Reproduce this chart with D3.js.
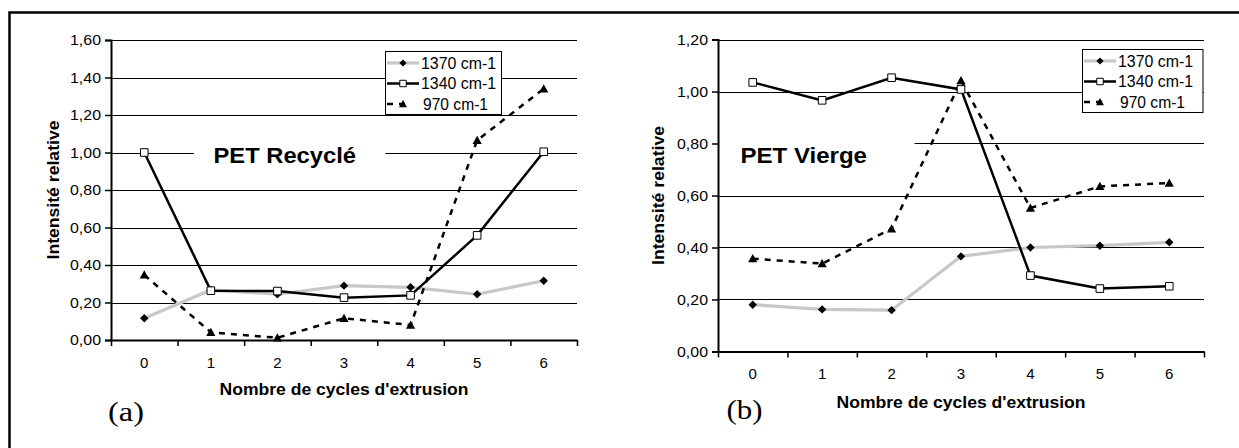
<!DOCTYPE html>
<html>
<head>
  <title>PET Recyclé / PET Vierge</title>
  <script src="https://d3js.org/d3.v7.min.js"></script>
  <style>
    body { margin: 0; background: #fff; font-family: "Liberation Sans", Arial, sans-serif; }
    svg { display: block; }
    .axis path, .axis line { stroke: #000; }
  </style>
</head>
<body>
  <div id="chart"></div>
  <script>
    // Data
    const cycles = [0, 1, 2, 3, 4, 5, 6];
    const seriesNames = ["1370 cm-1", "1340 cm-1", "970 cm-1"];

    const recycle1370 = [0.116, 0.267, 0.244, 0.290, 0.281, 0.244, 0.316];
    const recycle1340 = [1.000, 0.263, 0.261, 0.226, 0.238, 0.558, 1.004];
    const recycle970  = [0.347, 0.041, 0.012, 0.116, 0.080, 1.065, 1.340];

    const vierge1370 = [0.180, 0.162, 0.159, 0.366, 0.400, 0.407, 0.420];
    const vierge1340 = [1.035, 0.966, 1.053, 1.008, 0.292, 0.242, 0.251];
    const vierge970  = [0.357, 0.338, 0.472, 1.042, 0.552, 0.635, 0.648];

    const yTicksRecycle = [0, 0.2, 0.4, 0.6, 0.8, 1.0, 1.2, 1.4, 1.6];
    const yTicksVierge  = [0, 0.2, 0.4, 0.6, 0.8, 1.0, 1.2];

    const W = 1239, H = 448;
    const SANS = "'Liberation Sans', Arial, sans-serif";
    const SERIF = "'Liberation Serif', 'Times New Roman', serif";

    const svg = d3.select("#chart").append("svg")
      .attr("width", W).attr("height", H)
      .attr("font-family", SANS);

    // outer frame (left + top visible)
    svg.append("path")
      .attr("d", `M9.5,${H}V12.5H${W}`)
      .attr("fill", "none").attr("stroke", "#000").attr("stroke-width", 2.5);

    // custom marker shapes (size = half width)
    const diamond = { draw(ctx, r) { ctx.moveTo(0, -r); ctx.lineTo(r, 0); ctx.lineTo(0, r); ctx.lineTo(-r, 0); ctx.closePath(); } };
    const square = { draw(ctx, r) { ctx.rect(-r, -r, 2 * r, 2 * r); } };
    const triangle = { draw(ctx, r) { ctx.moveTo(0, -r); ctx.lineTo(r, r * 0.8); ctx.lineTo(-r, r * 0.8); ctx.closePath(); } };

    const styles = [
      { stroke: "#c8c8c8", width: 3.2, dash: null, shape: diamond, r: 4.2, fill: "#000", mstroke: "none" },
      { stroke: "#000", width: 2.5, dash: null, shape: square, r: 3.8, fill: "#fff", mstroke: "#000" },
      { stroke: "#000", width: 2.5, dash: "6,6", shape: triangle, r: 4.6, fill: "#000", mstroke: "none" }
    ];

    function fmt(d) { return d.toFixed(2).replace(".", ","); }

    function styleAxis(s) {
      s.attr("font-family", SANS).attr("font-size", 15);
      s.select(".domain").attr("stroke-width", 2);
      s.selectAll(".tick line").attr("stroke-width", 1.5);
      s.selectAll(".tick text").attr("fill", "#000");
    }

    function drawPanel(o) {
      const g = svg.append("g");
      const x = d3.scaleBand().domain(cycles).range([o.x0, o.x1]).paddingInner(0).paddingOuter(0);
      const xEdge = d3.scaleLinear().domain([0, cycles.length]).range([o.x0, o.x1]);
      const y = d3.scaleLinear().domain([0, d3.max(o.yTicks)]).range([o.y1, o.y0]);
      const cx = d => x(d) + x.bandwidth() / 2;

      // gridlines
      g.append("g").selectAll("line")
        .data(o.yTicks.filter(v => v > 0))
        .join("line")
        .attr("x1", o.x0).attr("x2", o.x1)
        .attr("y1", d => Math.round(y(d)) + 0.5).attr("y2", d => Math.round(y(d)) + 0.5)
        .attr("stroke", "#000").attr("stroke-width", 1);

      // label box that hides the gridline behind it
      g.append("rect")
        .attr("x", o.box[0]).attr("y", o.box[1])
        .attr("width", o.box[2]).attr("height", o.box[3])
        .attr("fill", "#fff");
      g.append("text")
        .attr("x", o.label[0]).attr("y", o.label[1])
        .attr("font-size", 22).attr("font-weight", "bold")
        .attr("textLength", o.label[2]).attr("lengthAdjust", "spacingAndGlyphs")
        .text(o.title);

      // y axis
      g.append("g").attr("class", "axis")
        .attr("transform", `translate(${o.x0},0)`)
        .call(d3.axisLeft(y).tickValues(o.yTicks).tickFormat(fmt).tickSize(6).tickPadding(4))
        .call(styleAxis)
        .call(s => s.selectAll(".tick text").attr("textLength", 31).attr("lengthAdjust", "spacingAndGlyphs"));

      // x axis: boundary ticks + centred labels
      g.append("g").attr("class", "axis")
        .attr("transform", `translate(0,${o.y1})`)
        .call(d3.axisBottom(xEdge).tickValues(d3.range(cycles.length + 1)).tickFormat("").tickSize(6).tickSizeOuter(0))
        .call(styleAxis);
      g.append("g").attr("class", "axis")
        .attr("transform", `translate(0,${o.y1})`)
        .call(d3.axisBottom(x).tickSize(0).tickPadding(17))
        .call(styleAxis)
        .call(s => s.select(".domain").remove());

      // axis titles
      g.append("text")
        .attr("x", (o.x0 + o.x1) / 2).attr("y", o.xTitleY)
        .attr("text-anchor", "middle").attr("font-size", 16).attr("font-weight", "bold")
        .attr("textLength", 249).attr("lengthAdjust", "spacingAndGlyphs")
        .text("Nombre de cycles d'extrusion");
      g.append("text")
        .attr("transform", `translate(${o.yTitleX},${(o.y0 + o.y1) / 2}) rotate(-90)`)
        .attr("text-anchor", "middle").attr("font-size", 16).attr("font-weight", "bold")
        .attr("textLength", 139).attr("lengthAdjust", "spacingAndGlyphs")
        .text("Intensité relative");

      // series
      const line = d3.line().x((d, i) => cx(cycles[i])).y(d => y(d));
      o.series.forEach((vals, k) => {
        const st = styles[k];
        g.append("path")
          .datum(vals)
          .attr("d", line)
          .attr("fill", "none")
          .attr("stroke", st.stroke).attr("stroke-width", st.width)
          .attr("stroke-dasharray", st.dash);
      });
      o.series.forEach((vals, k) => {
        const st = styles[k];
        g.append("g").selectAll("path")
          .data(vals)
          .join("path")
          .attr("transform", (d, i) => `translate(${cx(cycles[i])},${y(d)})`)
          .attr("d", d3.symbol().type(st.shape).size(st.r))
          .attr("fill", st.fill).attr("stroke", st.mstroke).attr("stroke-width", 1);
      });

      // legend
      const lg = g.append("g").attr("transform", `translate(${o.legend[0]},${o.legend[1]})`);
      lg.append("rect")
        .attr("x", 0.5).attr("y", 0.5).attr("width", o.legend[2]).attr("height", 63)
        .attr("fill", "#fff").attr("stroke", "#000").attr("stroke-width", 1);
      seriesNames.forEach((name, k) => {
        const st = styles[k];
        const ry = 12 + k * 20.5;
        lg.append("line")
          .attr("x1", 2).attr("x2", k === 2 ? 20 : 34).attr("y1", ry).attr("y2", ry)
          .attr("stroke", st.stroke).attr("stroke-width", st.width)
          .attr("stroke-dasharray", st.dash);
        lg.append("path")
          .attr("transform", `translate(18,${ry})`)
          .attr("d", d3.symbol().type(st.shape).size(st.r * 0.85))
          .attr("fill", st.fill).attr("stroke", st.mstroke).attr("stroke-width", 1);
        lg.append("text")
          .attr("x", k === 2 ? 38 : 36).attr("y", ry + 5.5)
          .attr("font-size", 16)
          .attr("textLength", k === 2 ? 65 : 75).attr("lengthAdjust", "spacingAndGlyphs")
          .text(name);
      });

      // panel letter
      g.append("text")
        .attr("x", o.letter[0]).attr("y", o.letter[1])
        .attr("font-family", SERIF)
        .attr("font-size", 28)
        .attr("textLength", 36).attr("lengthAdjust", "spacingAndGlyphs")
        .text(o.letterText);
    }

    drawPanel({
      x0: 111, x1: 577, y0: 40, y1: 340,
      yTicks: yTicksRecycle,
      series: [recycle1370, recycle1340, recycle970],
      title: "PET Recyclé", label: [213.5, 162.5, 142.5], box: [194, 136, 191.5, 36],
      legend: [385, 51, 116],
      xTitleY: 395, yTitleX: 59,
      letter: [108, 421], letterText: "(a)"
    });

    drawPanel({
      x0: 718, x1: 1204, y0: 39.5, y1: 351.5,
      yTicks: yTicksVierge,
      series: [vierge1370, vierge1340, vierge970],
      title: "PET Vierge", label: [740.5, 162.5, 126.5], box: [719, 124, 195.5, 44],
      legend: [1082, 49, 120.5],
      xTitleY: 408, yTitleX: 664,
      letter: [726.5, 419], letterText: "(b)"
    });
  </script>
</body>
</html>
